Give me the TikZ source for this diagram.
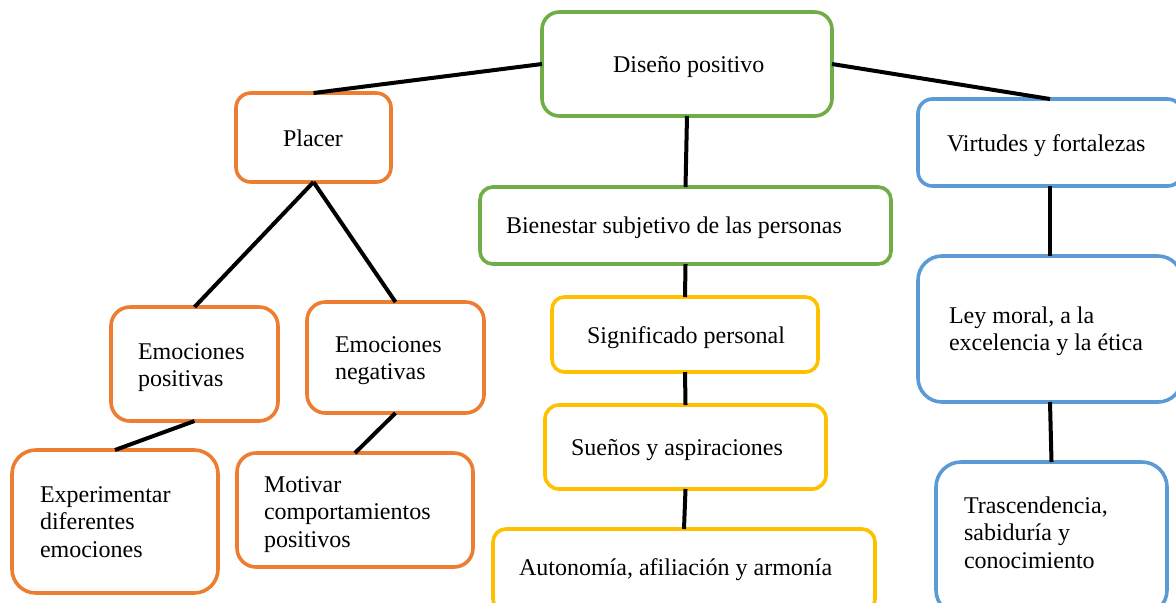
\documentclass[tikz,border=0pt]{standalone}
\usepackage{fontspec}
\setmainfont{Liberation Serif}
\usetikzlibrary{fit}
\definecolor{cOrange}{HTML}{ED7D31}
\definecolor{cGreen}{HTML}{70AD47}
\definecolor{cYellow}{HTML}{FFC000}
\definecolor{cBlue}{HTML}{5B9BD5}
\newcommand\mlines[1]{\begin{tabular}[t]{@{}l@{}}#1\end{tabular}}
\begin{document}
\begin{tikzpicture}[x=0.5pt,y=-0.5pt,
  box/.style={draw=#1, line width=1.8pt, inner sep=0pt, outer sep=0pt},
  conn/.style={draw=black, line width=2pt},
  txt/.style={anchor=base west, inner sep=0pt, outer sep=0pt, font=\fontsize{12}{13.75}\selectfont}]
\useasboundingbox (0,0) rectangle (1176,602);
\clip (0,0) rectangle (1176,602);

% boxes
\node[box=cGreen, rounded corners=8.7pt, fit={(542,12) (832,116)}] (dis) {};
\node[box=cOrange, rounded corners=7.4pt, fit={(236,93) (391,182)}] (pla) {};
\node[box=cGreen, rounded corners=6.4pt, fit={(480,187) (891,264)}] (bie) {};
\node[box=cBlue, rounded corners=7.2pt, fit={(918,99) (1182,186)}] (vir) {};
\node[box=cOrange, rounded corners=9.5pt, fit={(111,307) (278,421)}] (epos) {};
\node[box=cOrange, rounded corners=9.2pt, fit={(307,302) (484,413)}] (eneg) {};
\node[box=cOrange, rounded corners=11.9pt, fit={(12,450) (218,593)}] (exp) {};
\node[box=cOrange, rounded corners=9.5pt, fit={(237,453) (473,567)}] (mot) {};
\node[box=cYellow, rounded corners=6.2pt, fit={(552,297) (818,372)}] (sig) {};
\node[box=cYellow, rounded corners=7pt, fit={(545,405) (826,489)}] (sue) {};
\node[box=cYellow, rounded corners=6.5pt, fit={(493,529) (875,612)}] (aut) {};
\node[box=cBlue, rounded corners=12pt, fit={(918,256) (1182,402)}] (ley) {};
\node[box=cBlue, rounded corners=12.5pt, fit={(936,462) (1167,615)}] (tra) {};

% texts
\node[txt] (tdis) at (613,72) {Diseño positivo};
\node[txt] (tpla) at (283,146) {Placer};
\node[txt] (tbie) at (506,233) {Bienestar subjetivo de las personas};
\node[txt] (tvir) at (947,151) {Virtudes y fortalezas};
\node[txt] (tepos) at (138,359) {\mlines{Emociones\\positivas}};
\node[txt] (teneg) at (335,352) {\mlines{Emociones\\negativas}};
\node[txt] (texp) at (40,502) {\mlines{Experimentar\\diferentes\\emociones}};
\node[txt] (tmot) at (264,492) {\mlines{Motivar\\comportamientos\\positivos}};
\node[txt] (tsig) at (587,343) {Significado personal};
\node[txt] (tsue) at (571,455) {Sueños y aspiraciones};
\node[txt] (taut) at (519,575) {Autonomía, afiliación y armonía};
\node[txt] (tley) at (949,323) {\mlines{Ley moral, a la\\excelencia y la ética}};
\node[txt] (ttra) at (964,513) {\mlines{Trascendencia,\\sabiduría y\\conocimiento}};

% connectors
\draw[conn] (dis.west) -- (pla.north);
\draw[conn] (dis.east) -- (vir.north);
\draw[conn] (dis.south) -- (bie.north);
\draw[conn] (pla.south) -- (epos.north);
\draw[conn] (pla.south) -- (eneg.north);
\draw[conn] (epos.south) -- (exp.north);
\draw[conn] (eneg.south) -- (mot.north);
\draw[conn] (bie.south) -- (sig.north);
\draw[conn] (sig.south) -- (sue.north);
\draw[conn] (sue.south) -- (aut.north);
\draw[conn] (vir.south) -- (ley.north);
\draw[conn] (ley.south) -- (tra.north);
\end{tikzpicture}
\end{document}
